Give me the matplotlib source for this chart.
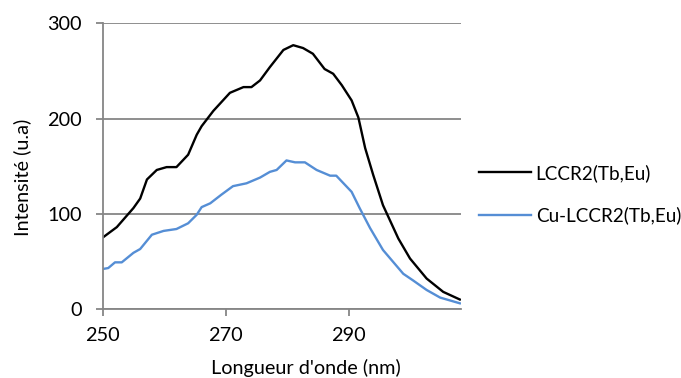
import matplotlib
matplotlib.use('Agg')
from matplotlib import pyplot as plt

# valeurs
x_lccr = [250, 252.3, 255, 256.1, 257.2, 258.8, 260.4, 262, 263.9, 265.3, 266.1, 268,
          270.7, 272.9, 274.2, 275.6, 277.2, 279.4, 281, 282.6, 284.2, 286.1, 287.5,
          288.9, 290.5, 291.6, 292.7, 294, 295.6, 298.1, 300, 302.7, 305.4, 308.1]
y_lccr = [75, 86, 106, 116, 136, 146, 149, 149, 162, 183, 192, 208,
          227, 233, 233, 240, 254, 272, 277, 274, 268, 252, 247,
          235, 219, 201, 169, 141, 109, 74, 53, 32, 18, 10]

x_cu = [250, 250.9, 252, 253.1, 255, 256.1, 258, 259.9, 262, 263.9, 265.3, 266.1, 267.5,
        269.3, 271.2, 273.4, 275.6, 277.2, 278.3, 279.9, 281.3, 282.9, 284.8, 287, 288,
        290.5, 291.8, 293.5, 295.6, 298.9, 300.5, 302.7, 304.9, 308.1]
y_cu = [42, 43, 49, 49, 59, 63, 78, 82, 84, 90, 99, 107, 111,
        120, 129, 132, 138, 144, 146, 156, 154, 154, 146, 140, 140,
        123, 106, 85, 62, 37, 30, 20, 12, 6]

labels = ['LCCR2(Tb,Eu)', 'Cu-LCCR2(Tb,Eu)']
xticks = [250, 270, 290]
yticks = [0, 100, 200, 300]

plt.rcParams['font.family'] = ['Lato', 'DejaVu Sans']
grey = '#868686'
fs = 14.3

fig = plt.figure(figsize=(6.81, 3.78), dpi=100)
ax = fig.add_axes([0.1508, 0.1825, 0.677 - 0.1508, 0.9384 - 0.1825])

ax.plot(x_lccr, y_lccr, color='black', lw=1.7, label=labels[0])
ax.plot(x_cu, y_cu, color='#558ED5', lw=1.7, label=labels[1])

ax.set_xlim(250, 308.3)
ax.set_ylim(0, 300)
ax.set_xticks(xticks)
ax.set_yticks(yticks)
ax.yaxis.grid(True, color=grey, lw=1.3)
ax.set_axisbelow(True)
for s in ['top', 'right']:
    ax.spines[s].set_visible(False)
for s in ['left', 'bottom']:
    ax.spines[s].set_color(grey)
    ax.spines[s].set_linewidth(1.3)
ax.tick_params(colors=grey, labelcolor='black', labelsize=fs, length=5, width=1.3)
ax.tick_params(axis='x', pad=8)
ax.tick_params(axis='y', pad=10)

ax.set_xlabel("Longueur d'onde (nm)", fontsize=fs, va='center')
ax.xaxis.set_label_coords(0.567, -0.2065)
ax.set_ylabel('Intensité (u.a)', fontsize=fs, va='center')
ax.yaxis.set_label_coords(-0.226, 0.46)

fig.legend(loc='center left', bbox_to_anchor=(0.7034, 0.486), frameon=False,
           fontsize=13.6, handlelength=2.75, handletextpad=0.25, labelspacing=1.3,
           borderpad=0, borderaxespad=0)

fig.savefig('out.png', dpi=100)
